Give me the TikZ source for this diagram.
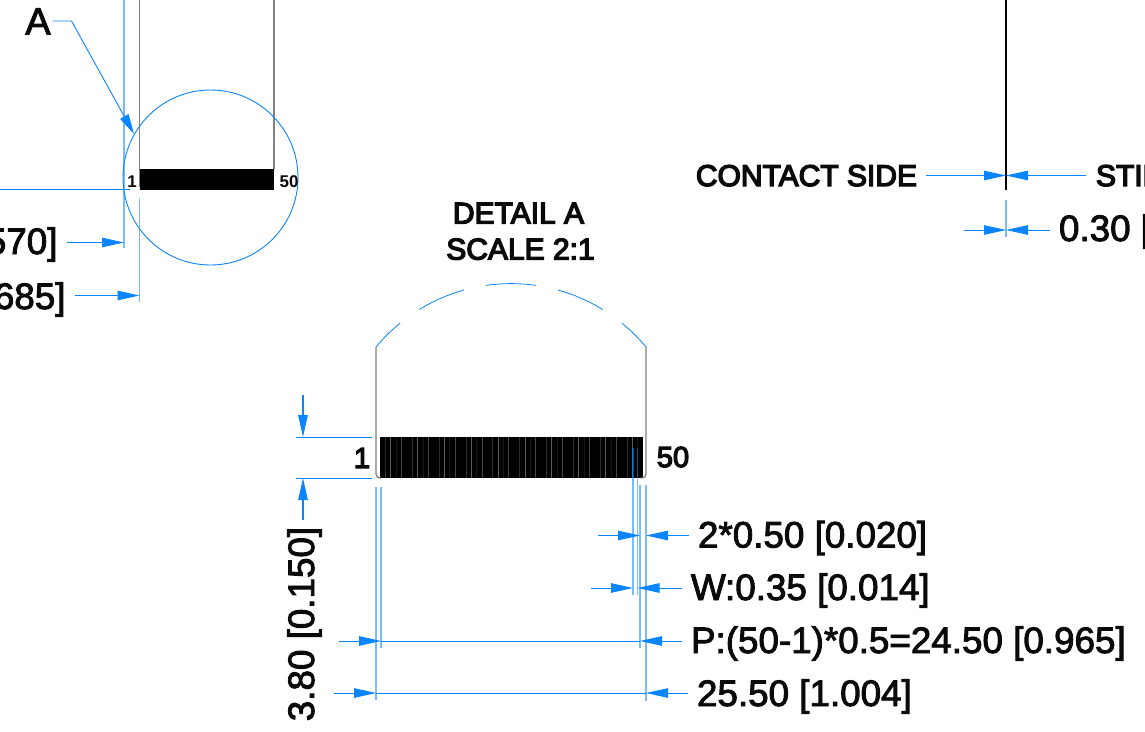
\documentclass[tikz,border=0pt]{standalone}
\usepackage{fontspec}
\setmainfont{Liberation Sans}
\newfontfamily\cadfont[RawFeature={embolden=2.5}]{Liberation Sans}
\newfontfamily\capfont[RawFeature={embolden=4.5}]{Liberation Sans}
\usepackage{xcolor}
\definecolor{dimBlue}{HTML}{0A84FF}
\definecolor{outlineGray}{HTML}{808080}
\definecolor{inkBlack}{HTML}{0A0A0A}
\usetikzlibrary{arrows.meta,shapes.geometric}
\tikzset{
    dimline/.style={
        draw=dimBlue,
        line width=0.9pt
    },
    extline/.style={
        draw=dimBlue,
        line width=1.3pt,
        opacity=0.55
    },
    dimarrow/.style={
        dimline,
        -{Triangle[length=22pt,width=9.5pt]}
    },
    dimlabel/.style={
        anchor=west,
        inner sep=0pt,
        outer xsep=9pt,
        text=inkBlack,
        text height=26pt,
        text depth=0pt,
        font=\cadfont\fontsize{36.8}{40}\selectfont
    },
    caption/.style={
        inner sep=0pt,
        text=inkBlack,
        text height=21pt,
        text depth=0pt,
        font=\capfont\fontsize{30}{32}\selectfont
    },
    pinmark/.style={
        inner sep=0pt,
        text=inkBlack,
        text height=12pt,
        text depth=0pt,
        font=\bfseries\fontsize{17}{19}\selectfont
    },
    padblock/.style={
        fill=black,
        rectangle,
        inner sep=0pt
    },
    outline/.style={
        draw=outlineGray,
        line width=1.3pt
    }
}

\begin{document}
\begin{tikzpicture}[x=1pt,y=-1pt]
    \clip (0,0) rectangle (1145,731);

    % Small connector view
    \node[padblock, minimum width=134pt, minimum height=21pt] (padsTop) at (207,179.5) {};
    \draw[outline] (139.5,0) -- (139.5,187);
    \draw[outline] (274,0) -- (274,169);
    \node[circle, draw=dimBlue, line width=0.9pt, minimum size=175pt, inner sep=0pt] (detailCircle) at (210.5,177.5) {};
    \node[pinmark] (pinOneTop) at (132,181) {1};
    \node[pinmark] (pinEndTop) at (289,181) {50};

    % Leader to the detail circle
    \node[caption, text height=27pt, font=\cadfont\fontsize{38}{40}\selectfont, outer xsep=2pt] (letterA) at (38,21) {A};
    \coordinate (leaderKnee) at (71.5,21);
    \coordinate (leaderTip) at (134,134);
    \draw[dimline, -{Triangle[length=20pt,width=9.5pt]}] (letterA.east) -- (leaderKnee) -- (leaderTip);

    % Cut off dimensions of the small view
    \coordinate (leftEdge) at (0,189.5);
    \coordinate (pinOneFoot) at (130,189.5);
    \draw[dimline] (leftEdge) -- (pinOneFoot);
    \coordinate (extFarA) at (124,0);
    \coordinate (extFarB) at (124,248);
    \draw[extline] (extFarA) -- (extFarB);
    \coordinate (extNearA) at (139.5,198);
    \coordinate (extNearB) at (139.5,302);
    \draw[extline] (extNearA) -- (extNearB);
    \node[dimlabel, anchor=east] (cutFar) at (66.5,241) {570]};
    \node[dimlabel, anchor=east] (cutNear) at (74.5,296) {685]};
    \draw[dimarrow] (cutFar.east |- 0,242.5) -- (124,242.5);
    \draw[dimarrow] (cutNear.east |- 0,295.5) -- (139.5,295.5);

    % Side view
    \coordinate (sideTop) at (1006,0);
    \coordinate (sideThin) at (1006,160);
    \coordinate (sideEnd) at (1006,190);
    \coordinate (sideExtA) at (1006,200);
    \coordinate (sideExtB) at (1006,237);
    \draw[draw=black, line width=1.1pt] (sideTop) -- (sideThin);
    \draw[draw=black, line width=1.6pt] (sideThin) -- (sideEnd);
    \draw[extline] (sideExtA) -- (sideExtB);
    \node[caption, anchor=east, outer xsep=9pt] (contactSide) at (926,175.5) {CONTACT SIDE};
    \node[caption, anchor=west, outer xsep=10pt] (stiffSide) at (1086,175.5) {STIF};
    \node[dimlabel, outer xsep=9pt] (thickLabel) at (1050,228) {0.30 [};
    \coordinate (thickTail) at (964,230);
    \draw[dimarrow] (contactSide.east) -- (1006,175.5);
    \draw[dimarrow] (stiffSide.west) -- (1006,175.5);
    \draw[dimarrow] (thickTail) -- (1006,230);
    \draw[dimarrow] (thickLabel.west |- 0,230) -- (1006,230);

    % Detail A title
    \node[caption] (detailTitle) at (518.5,213) {DETAIL A};
    \node[caption] (detailScale) at (520.5,249) {SCALE 2:1};

    % Broken arc of the detail
    \foreach \from/\to in {-140.3/-129.2,-121.5/-105.5,-98.2/-81.8,-74.5/-58.5,-50.8/-39.7}
        \draw[dimline, line width=0.8pt] plot[domain=\from:\to, samples=16, smooth]
            ({511+175.4*cos(\x)},{459+175.4*sin(\x)});

    % Detail outline and contacts
    \node[padblock, minimum width=263pt, minimum height=41pt] (padsDetail) at (511.5,457.5) {};
    \foreach \i in {1,...,48}{
        \pgfmathtruncatemacro\shade{mod(\i*7,5)*9}
        \draw[draw=white!\shade!black, line width=0.8pt] ({380+\i*5.37},437) -- ({380+\i*5.37},478);
    }
    \draw[outline, rounded corners=4pt] (376,347) -- (376,478) -- (381,478);
    \draw[outline, rounded corners=4pt] (646,347) -- (646,478) -- (641,478);
    \node[pinmark, text height=20pt, font=\capfont\fontsize{29}{31}\selectfont] (pinOne) at (362,458) {1};
    \node[pinmark, text height=20pt, font=\capfont\fontsize{29}{31}\selectfont] (pinEnd) at (673,457) {50};

    % Height dimension
    \coordinate (heightTopA) at (296,437);
    \coordinate (heightTopB) at (372,437);
    \coordinate (heightLowA) at (296,478);
    \coordinate (heightLowB) at (372,478);
    \draw[dimline] (heightTopA) -- (heightTopB);
    \draw[dimline] (heightLowA) -- (heightLowB);
    \node[dimlabel, anchor=center, rotate=90, outer xsep=8pt] (heightLabel) at (301,624) {3.80 [0.150]};
    \coordinate (heightTail) at (303,395);
    \coordinate (heightFoot) at (303,520);
    \draw[dimarrow, line width=1.1pt] (heightTail) -- (303,437);
    \draw[dimarrow, line width=1.1pt] (heightFoot) -- (303,478);

    % Extension lines
    \foreach \n/\x/\ya/\yb in {a/376/487/700,b/381/487/648,c/633/448/595,d/637.5/448/595,e/640/485/648,f/646/485/701}{
        \coordinate (ext\n top) at (\x,\ya);
        \coordinate (ext\n low) at (\x,\yb);
        \draw[extline] (ext\n top) -- (ext\n low);
    }

    % Dimensions under the detail
    \node[dimlabel] (pitchLabel) at (689,534.5) {2*0.50 [0.020]};
    \node[dimlabel] (widthLabel) at (682,587) {W:0.35 [0.014]};
    \node[dimlabel] (spanLabel) at (682,640) {P:(50-1)*0.5=24.50 [0.965]};
    \node[dimlabel] (totalLabel) at (688,693) {25.50 [1.004]};

    \coordinate (pitchTail) at (598,535.5);
    \coordinate (widthTail) at (591,588);
    \coordinate (spanTail) at (339,641);
    \coordinate (totalTail) at (334,693);
    \draw[dimarrow] (pitchTail) -- (640,535.5);
    \draw[dimarrow] (pitchLabel.west |- 0,535.5) -- (646,535.5);
    \draw[dimarrow] (widthTail) -- (633,588);
    \draw[dimarrow] (widthLabel.west |- 0,588) -- (637.5,588);
    \draw[dimarrow] (spanTail) -- (381,641);
    \draw[dimarrow] (spanLabel.west |- 0,641) -- (640,641);
    \draw[dimline] (381,641) -- (640,641);
    \draw[dimarrow] (totalTail) -- (376,693);
    \draw[dimarrow] (totalLabel.west |- 0,693) -- (646,693);
    \draw[dimline] (376,693) -- (646,693);
\end{tikzpicture}
\end{document}
